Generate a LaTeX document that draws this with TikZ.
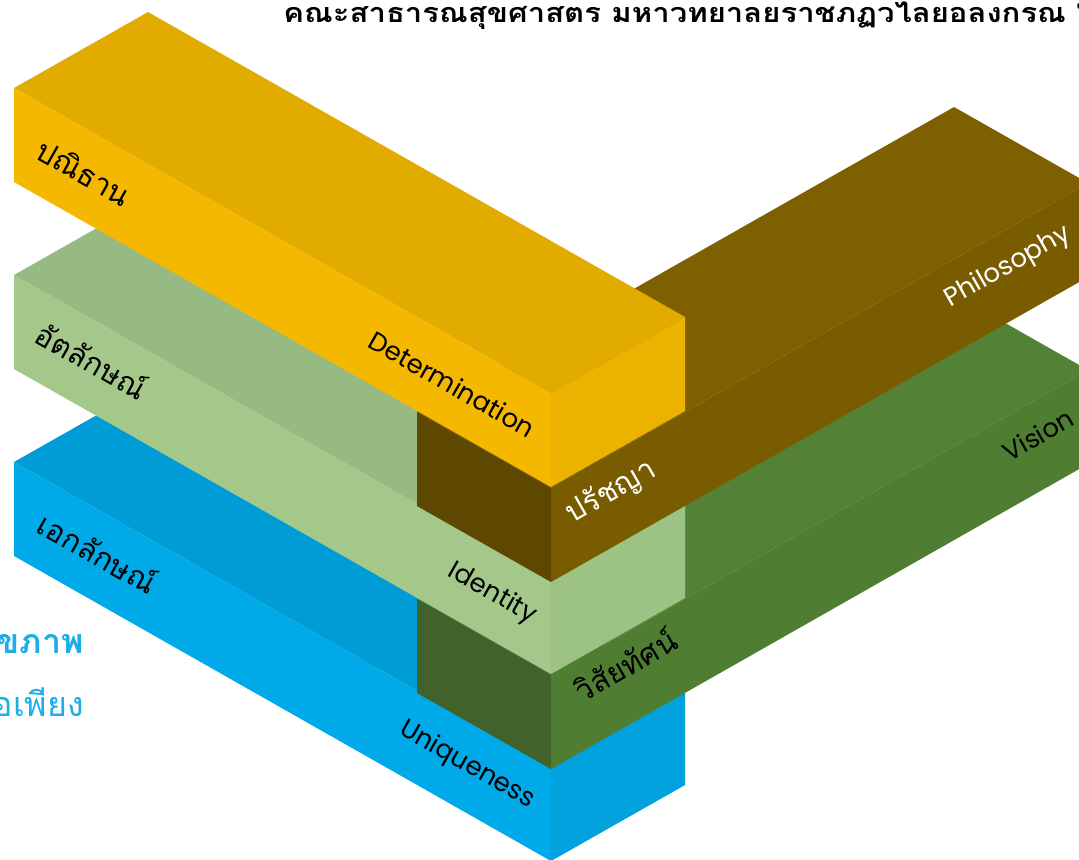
\documentclass[tikz,border=0pt]{standalone}
\usepackage{fontspec}
\newfontfamily\thaifont[Script=Thai]{Loma}
\newfontfamily\headfont[Script=Thai,FakeStretch=1.15]{Loma}
\newfontfamily\latinfont{Poppins}

\definecolor{yeltop}{HTML}{E2AB00}
\definecolor{yelfront}{HTML}{F5B800}
\definecolor{yelend}{HTML}{ECB200}
\definecolor{idtop}{HTML}{96BA82}
\definecolor{idfront}{HTML}{A3C88A}
\definecolor{idend}{HTML}{9DC384}
\definecolor{unitop}{HTML}{009CD6}
\definecolor{unifront}{HTML}{00AAE8}
\definecolor{uniend}{HTML}{00A1DC}
\definecolor{phitop}{HTML}{7F6000}
\definecolor{phifront}{HTML}{7A5C00}
\definecolor{phiend}{HTML}{5E4700}
\definecolor{vistop}{HTML}{538135}
\definecolor{visfront}{HTML}{4F7E33}
\definecolor{visend}{HTML}{41622A}
\definecolor{sidecyan}{HTML}{1CAEE6}

\tikzset{
  thlabel/.style={inner sep=0pt, font=\thaifont\fontsize{15}{17}\selectfont},
  enlabel/.style={inner sep=0pt, font=\latinfont\fontsize{13}{15}\selectfont}
}

\begin{document}
\begin{tikzpicture}[x=0.5pt,y=-0.5pt]
    \useasboundingbox (0,0) rectangle (1079,859);
    \clip (0,0) rectangle (1079,859);
    % blue bar
    \fill[fill=unitop] (14,462) -- (148,386) -- (685,691) -- (551,767) -- cycle;
    \fill[fill=unifront] (14,462) -- (551,767) -- (551,861) -- (14,556) -- cycle;
    \fill[fill=uniend] (551,767) -- (685,691) -- (685,785) -- (551,861) -- cycle;
    % vision bar
    \fill[fill=vistop] (417,599) -- (551,675) -- (1088,370) -- (954,294) -- cycle;
    \fill[fill=visfront] (551,675) -- (1088,370) -- (1088,464) -- (551,769) -- cycle;
    \fill[fill=visend] (417,599) -- (551,675) -- (551,769) -- (417,693) -- cycle;
    % identity bar
    \fill[fill=idtop] (14,275) -- (148,199) -- (685,504) -- (551,580) -- cycle;
    \fill[fill=idfront] (14,275) -- (551,580) -- (551,674) -- (14,369) -- cycle;
    \fill[fill=idend] (551,580) -- (685,504) -- (685,598) -- (551,674) -- cycle;
    % philosophy bar
    \fill[fill=phitop] (417,412) -- (551,488) -- (1088,183) -- (954,107) -- cycle;
    \fill[fill=phifront] (551,488) -- (1088,183) -- (1088,277) -- (551,582) -- cycle;
    \fill[fill=phiend] (417,412) -- (551,488) -- (551,582) -- (417,506) -- cycle;
    % determination bar
    \fill[fill=yeltop] (14,88) -- (148,12) -- (685,317) -- (551,393) -- cycle;
    \fill[fill=yelfront] (14,88) -- (551,393) -- (551,487) -- (14,182) -- cycle;
    \fill[fill=yelend] (551,393) -- (685,317) -- (685,411) -- (551,487) -- cycle;

    % labels
    \node[thlabel, rotate=-29.6] (pan) at (84,172) {ปณิธาน};
    \node[enlabel, rotate=-29.6] (det) at (452,384) {Determination};
    \node[thlabel, rotate=-29.6] (idth) at (92,360) {อัตลักษณ์};
    \node[enlabel, rotate=-29.6] (iden) at (492,594) {Identity};
    \node[thlabel, rotate=-29.6] (unth) at (98,552) {เอกลักษณ์};
    \node[enlabel, rotate=-29.6] (unen) at (467,765) {Uniqueness};
    \node[thlabel, rotate=29.6, text=white] (phth) at (611,492) {ปรัชญา};
    \node[enlabel, rotate=29.6, text=white] (phen) at (1008,267) {Philosophy};
    \node[thlabel, rotate=29.6] (vith) at (625,664) {วิสัยทัศน์};
    \node[enlabel, rotate=29.6] (vien) at (1038,435) {Vision};

    % header and cut texts
    \node[anchor=west, inner sep=0pt, font=\headfont\bfseries\fontsize{13.5}{15}\selectfont] (faculty) at (283,16) {คณะสาธารณสุขศาสตร มหาวทยาลยราชภฏวไลยอลงกรณ ใ};
    \node[anchor=east, inner sep=0pt, text=sidecyan, font=\thaifont\bfseries\fontsize{17}{19}\selectfont] (health) at (84,644) {ขภาพ};
    \node[anchor=east, inner sep=0pt, text=sidecyan, font=\thaifont\fontsize{17}{19}\selectfont] (enough) at (84,702) {อเพียง};
\end{tikzpicture}
\end{document}
